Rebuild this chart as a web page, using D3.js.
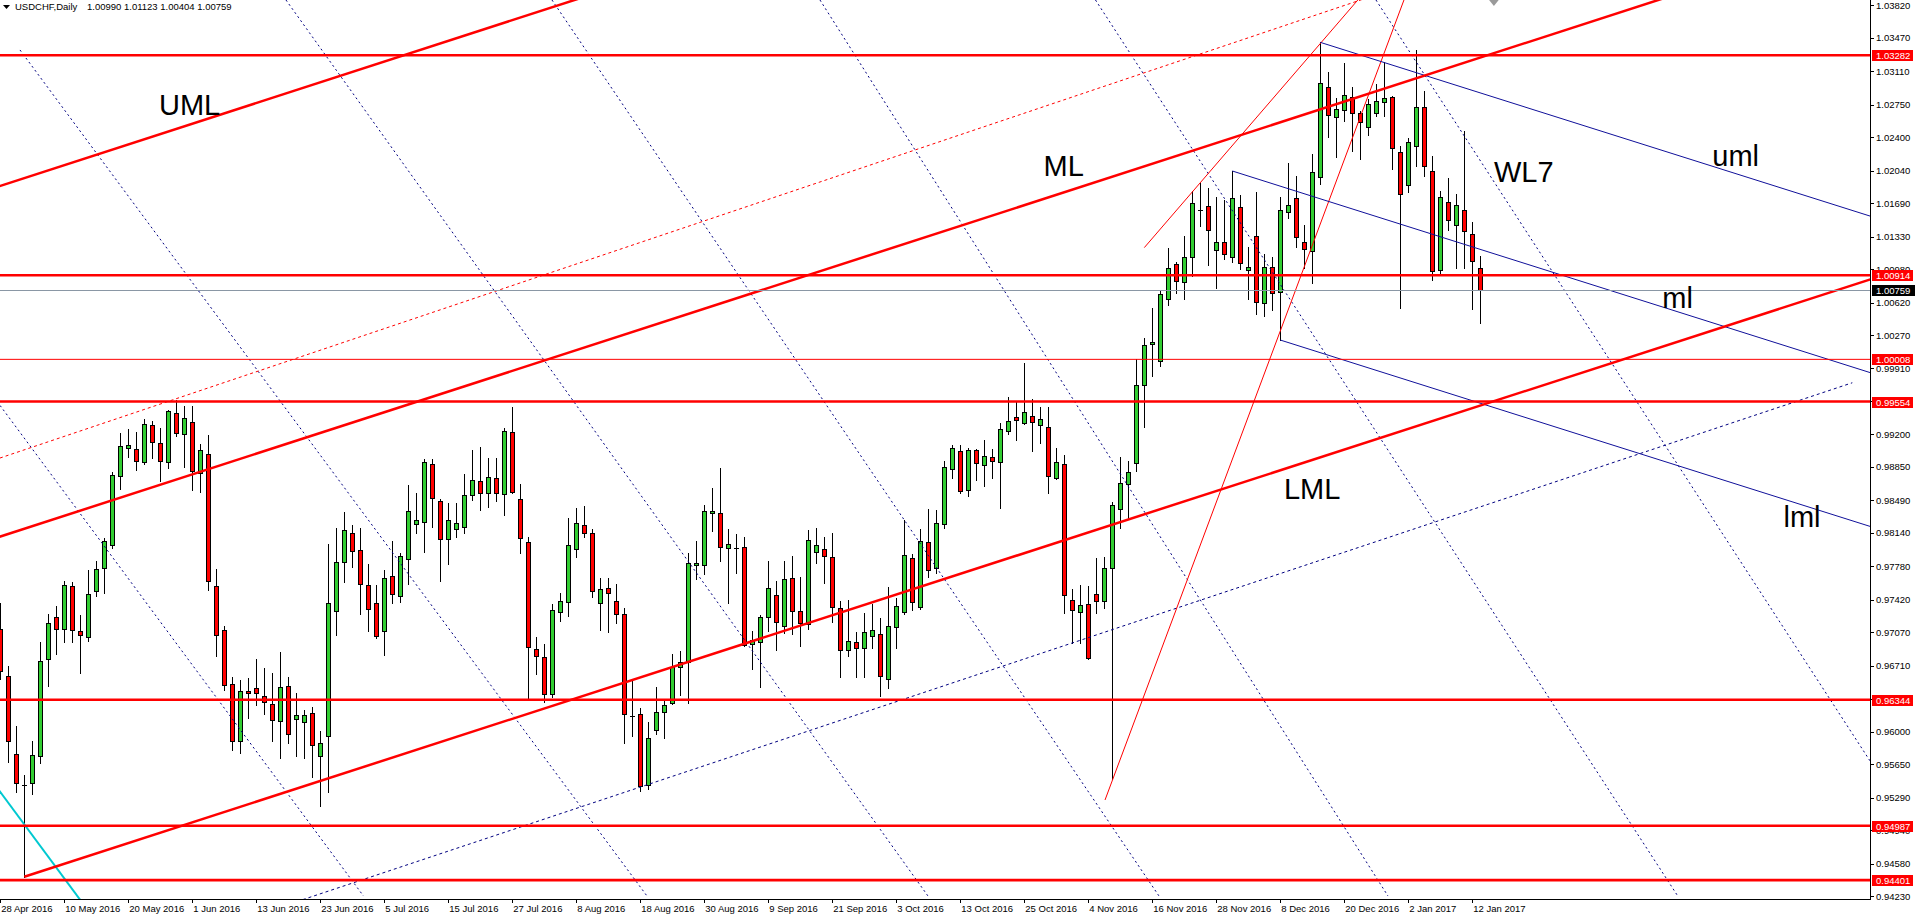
<!DOCTYPE html>
<html>
<head>
<meta charset="utf-8">
<script src="https://cdnjs.cloudflare.com/ajax/libs/d3/7.8.5/d3.min.js"></script>
<style>
  body { margin: 0; background: #fff; overflow: hidden; }
  svg { display: block; }
  text { font-family: "Liberation Sans", Arial, sans-serif; }
</style>
</head>
<body>
<svg width="1915" height="919"></svg>
<script>
// values

const symbolTitle = "USDCHF,Daily";

// daily bars, first one is 28 Apr 2016
const opens = [0.97104,0.96598,0.95758,0.95420,0.95449,0.95736,0.96780,0.97231,0.97104,0.97566,
 0.97086,0.97020,0.97511,0.97758,0.98013,0.98748,0.99050,0.99039,0.98901,0.99301,
 0.99108,0.98901,0.99428,0.99202,0.99330,0.98781,0.98984,0.97566,0.97093,0.96511,
 0.95904,0.96435,0.96467,0.96384,0.96293,0.96111,0.96489,0.96136,0.96104,0.96198,
 0.95741,0.95956,0.97302,0.97823,0.98135,0.97952,0.97575,0.97381,0.97087,0.97672,
 0.97464,0.97855,0.98239,0.98261,0.98878,0.98479,0.98070,0.98185,0.98207,0.98544,
 0.98695,0.98566,0.98727,0.98562,0.99222,0.98505,0.98038,0.96889,0.96803,0.96401,
 0.97291,0.97392,0.97963,0.98225,0.98135,0.97381,0.97543,0.97406,0.97263,0.96168,
 0.96186,0.95425,0.96017,0.96208,0.96305,0.96692,0.96753,0.97790,0.97790,0.98350,
 0.98350,0.97973,0.97973,0.97984,0.96943,0.96961,0.97230,0.97471,0.97141,0.97650,
 0.97302,0.97155,0.97930,0.97963,0.97884,0.97328,0.96879,0.96961,0.96897,0.97033,
 0.97047,0.96563,0.97123,0.97291,0.97866,0.97346,0.98038,0.97758,0.98240,0.98832,
 0.99022,0.98605,0.99033,0.98869,0.98954,0.98901,0.99234,0.99392,0.99324,0.99403,
 0.99297,0.99281,0.98731,0.98885,0.97420,0.97288,0.97378,0.97484,0.97404,0.97764,
 0.98398,0.98663,0.98890,0.99736,1.00170,0.99995,1.00662,1.01037,1.00841,1.01111,
 1.01613,1.01662,1.01182,1.01271,1.01106,1.01645,1.00966,1.01333,1.00611,1.01006,
 1.00730,1.01591,1.01742,1.01268,1.01171,1.01968,1.02944,1.02621,1.02689,1.02836,
 1.02657,1.02506,1.02657,1.02779,1.02836,1.02237,1.01882,1.02302,1.02729,1.02032,
 1.00970,1.01706,1.01451,1.01612,1.01354,1.00990];

const highs = [0.97380,0.96704,0.96056,0.95536,0.95900,0.96966,0.97267,0.97355,0.97620,0.97613,
 0.97257,0.97740,0.97839,0.98086,0.98791,0.99217,0.99257,0.99228,0.99366,0.99341,
 0.99268,0.99468,0.99573,0.99508,0.99508,0.99101,0.99195,0.97748,0.97140,0.96591,
 0.96558,0.96576,0.96784,0.96686,0.96635,0.96857,0.96591,0.96417,0.96231,0.96267,
 0.96007,0.98020,0.98189,0.98361,0.98225,0.98189,0.97805,0.97579,0.97740,0.98052,
 0.97920,0.98655,0.98566,0.98935,0.98935,0.98505,0.98458,0.98458,0.98770,0.99032,
 0.99061,0.98946,0.98946,0.99269,0.99495,0.98662,0.98092,0.97015,0.96940,0.97370,
 0.97489,0.98304,0.98411,0.98429,0.98182,0.97650,0.97650,0.97589,0.97327,0.96563,
 0.96251,0.96100,0.96477,0.96340,0.96836,0.96868,0.97920,0.98052,0.98440,0.98619,
 0.98835,0.98181,0.98128,0.98099,0.97083,0.97256,0.97837,0.97625,0.97837,0.97894,
 0.97668,0.98171,0.98189,0.98099,0.98135,0.97406,0.97417,0.97076,0.97281,0.97371,
 0.97227,0.97561,0.97442,0.98278,0.97912,0.98181,0.98393,0.98386,0.98916,0.99086,
 0.99086,0.99049,0.99043,0.99139,0.99043,0.99324,0.99604,0.99562,0.99974,0.99578,
 0.99493,0.99493,0.99059,0.98980,0.97536,0.97579,0.97563,0.97870,0.97885,0.98467,
 0.98954,0.98916,1.00011,1.00233,1.00566,1.00751,1.01211,1.01058,1.01333,1.01825,
 1.01904,1.01850,1.01760,1.01724,1.02036,1.01778,1.01214,1.01806,1.01139,1.01114,
 1.01760,1.02118,1.01982,1.01454,1.02219,1.03421,1.03098,1.02818,1.03195,1.02937,
 1.02682,1.02808,1.02973,1.03206,1.02843,1.02305,1.02388,1.03339,1.02897,1.02197,
 1.01824,1.01964,1.01785,1.02467,1.01483,1.01123];

const lows = [0.96566,0.95674,0.95347,0.94438,0.95329,0.95667,0.96493,0.96838,0.96966,0.96966,
 0.96627,0.96973,0.97457,0.97493,0.97973,0.98613,0.98955,0.98820,0.98886,0.98948,
 0.98700,0.98839,0.99184,0.98850,0.98602,0.98577,0.97529,0.96809,0.96446,0.95802,
 0.95766,0.96147,0.96282,0.96191,0.95904,0.95711,0.95875,0.95740,0.95711,0.95511,
 0.95199,0.95353,0.97040,0.97615,0.97776,0.97266,0.97087,0.97012,0.96825,0.97388,
 0.97399,0.97586,0.98135,0.97937,0.98207,0.97622,0.97805,0.98092,0.98135,0.98494,
 0.98386,0.98422,0.98483,0.98332,0.98566,0.97927,0.96347,0.96624,0.96322,0.96369,
 0.97191,0.97245,0.97884,0.98099,0.97446,0.97094,0.97076,0.97166,0.95881,0.95956,
 0.95364,0.95379,0.95971,0.95928,0.96297,0.96394,0.96305,0.97640,0.97697,0.98164,
 0.97841,0.97381,0.97711,0.96922,0.96674,0.96477,0.97083,0.96879,0.97058,0.97047,
 0.96922,0.97101,0.97819,0.97604,0.97184,0.96584,0.96814,0.96592,0.96592,0.96897,
 0.96387,0.96466,0.96904,0.97263,0.97309,0.97320,0.97661,0.97704,0.98187,0.98726,
 0.98573,0.98541,0.98705,0.98647,0.98731,0.98409,0.99202,0.99139,0.99308,0.99022,
 0.99112,0.98567,0.98716,0.97277,0.96955,0.96955,0.96786,0.97272,0.97336,0.95490,
 0.98187,0.98303,0.98805,0.99281,0.99826,0.99932,1.00588,1.00725,1.00662,1.00910,
 1.01439,1.01025,1.00780,1.01085,1.01053,1.00977,1.00654,1.00493,1.00478,1.00539,
 1.00216,1.01526,1.01221,1.00995,1.00826,1.01892,1.02398,1.02190,1.02578,1.02255,
 1.02161,1.02420,1.02632,1.02632,1.02054,1.00557,1.01813,1.02090,1.01986,1.00862,
 1.00916,1.01401,1.00996,1.00995,1.00546,1.00404];

const closes = [0.96656,0.95904,0.95449,0.95422,0.95747,0.96758,0.97173,0.97104,0.97577,0.97093,
 0.97038,0.97478,0.97748,0.98057,0.98759,0.99071,0.99082,0.98919,0.99308,0.99115,
 0.98919,0.99450,0.99213,0.99377,0.98802,0.99028,0.97620,0.97038,0.96500,0.95904,
 0.96435,0.96413,0.96420,0.96318,0.96122,0.96482,0.95973,0.96176,0.96184,0.95856,
 0.95874,0.97381,0.97823,0.98167,0.97948,0.97586,0.97324,0.97033,0.97650,0.97485,
 0.97887,0.98372,0.98275,0.98899,0.98519,0.98070,0.98275,0.98243,0.98544,0.98706,
 0.98566,0.98738,0.98573,0.99237,0.98584,0.98081,0.96915,0.96811,0.96409,0.97309,
 0.97406,0.98009,0.98243,0.98135,0.97510,0.97532,0.97489,0.97263,0.96186,0.96170,
 0.95418,0.95928,0.96208,0.96283,0.96692,0.96753,0.97812,0.97812,0.98372,0.98372,
 0.97991,0.98016,0.97975,0.96933,0.96986,0.97238,0.97543,0.97184,0.97640,0.97302,
 0.97166,0.98063,0.98006,0.97894,0.97346,0.96879,0.96976,0.96897,0.97069,0.97094,
 0.96602,0.97137,0.97353,0.97902,0.97399,0.98052,0.97740,0.98243,0.98848,0.99059,
 0.98594,0.99033,0.98890,0.98964,0.98916,0.99255,0.99340,0.99350,0.99440,0.99334,
 0.99361,0.98753,0.98901,0.97473,0.97314,0.97367,0.96796,0.97404,0.97764,0.98435,
 0.98673,0.98795,0.99731,1.00159,1.00196,1.00709,1.00995,1.00857,1.01111,1.01693,
 1.01616,1.01400,1.01271,1.01139,1.01742,1.01042,1.00999,1.00629,1.00999,1.00719,
 1.01612,1.01670,1.01322,1.01192,1.02022,1.02980,1.02635,1.02700,1.02851,1.02657,
 1.02560,1.02757,1.02790,1.02818,1.02280,1.01785,1.02352,1.02727,1.02090,1.00956,
 1.01752,1.01508,1.01670,1.01386,1.01063,1.00759];

// time axis, one label every 8 bars
const dateLabels = ["28 Apr 2016","10 May 2016","20 May 2016","1 Jun 2016","13 Jun 2016",
 "23 Jun 2016","5 Jul 2016","15 Jul 2016","27 Jul 2016","8 Aug 2016","18 Aug 2016",
 "30 Aug 2016","9 Sep 2016","21 Sep 2016","3 Oct 2016","13 Oct 2016","25 Oct 2016",
 "4 Nov 2016","16 Nov 2016","28 Nov 2016","8 Dec 2016","20 Dec 2016","2 Jan 2017","12 Jan 2017"];
const labelStep = 8;

// price axis ticks
const priceTicks = [1.03820,1.03470,1.03110,1.02750,1.02400,1.02040,1.01690,1.01330,1.00980,
 1.00620,1.00270,0.99910,0.99560,0.99200,0.98850,0.98490,0.98140,0.97780,0.97420,0.97070,
 0.96710,0.96350,0.96000,0.95650,0.95290,0.94940,0.94580,0.94230];

// horizontal levels
const levelPrices = [1.03282, 1.00914, 1.00008, 0.99554, 0.96344, 0.94987, 0.94401];
const thinLevel = 1.00008;

// drawn objects as [bar, price] pairs
const redFork = [
    [[-10, 1.01597], [80, 1.04106]],    // UML
    [[-10, 0.97822], [215, 1.04093]],   // ML
    [[3, 0.94438], [240, 1.01043]]      // LML
];
const blueFork = [
    [[165, 1.03421], [234, 1.01543]],   // uml
    [[154, 1.02036], [234, 0.99858]],   // ml
    [[160, 1.00216], [234, 0.98202]]    // lml
];
const redDotLine = [[-10, 0.98657], [175, 1.04021]];
const blueDashLine = [[25, 0.93823], [231.5, 0.99756]];
const redThinLines = [
    [[138.09, 0.95264], [176, 1.04002]],
    [[143.0, 1.01211], [170.5, 1.03958]]
];
const navyDotLines = [
    [[-3, 0.99857], [45.4, 0.94230]],
    [[2.46, 1.03339], [80.84, 0.94230]],
    [[35.71, 1.03877], [115.96, 0.94230]],
    [[68.96, 1.03877], [144.84, 0.94230]],
    [[102.46, 1.03877], [173.46, 0.94230]],
    [[136.9, 1.03877], [209.6, 0.94241]],
    [[171.96, 1.03877], [240, 0.94851]]
];
const cyanLine = [[-2, 0.95583], [11, 0.94071]];

// text objects
const noteTexts = ["UML", "ML", "LML", "WL7", "uml", "ml", "lml"];
const noteBars = [19.84, 130.4, 160.46, 186.71, 214.0, 207.75, 222.9];
const notePrices = [1.02639, 1.01978, 0.98504, 1.01914, 1.02093, 1.00558, 0.98206];

const svg = d3.select("svg");

const PLOT_RIGHT = 1870;
const PLOT_BOTTOM = 899;
const BAR_PX = 8;

// bar index -> pixel, price -> pixel
const x = d3.scaleLinear().domain([0, 1]).range([0.3, 0.3 + BAR_PX]);
const y = d3.scaleLinear().domain([0.94198, 1.03877]).range([PLOT_BOTTOM, 0]);

svg.append("rect")
    .attr("width", 1915)
    .attr("height", 919)
    .attr("fill", "#fff");

svg.append("defs").append("clipPath")
    .attr("id", "plotClip")
    .append("rect")
    .attr("x", 0).attr("y", 0)
    .attr("width", PLOT_RIGHT)
    .attr("height", PLOT_BOTTOM);

const plot = svg.append("g").attr("clip-path", "url(#plotClip)");

// candles
const bars = opens.map((o, i) => ({i: i, o: o, h: highs[i], l: lows[i], c: closes[i]}));

function cx(d) { return Math.round(x(d.i)); }

plot.append("g")
    .selectAll("line")
    .data(bars)
    .enter().append("line")
    .attr("x1", d => cx(d) + 0.5)
    .attr("x2", d => cx(d) + 0.5)
    .attr("y1", d => Math.round(y(d.h)))
    .attr("y2", d => Math.round(y(d.l)) + 1)
    .attr("stroke", "#000")
    .attr("shape-rendering", "crispEdges");

const bodies = bars.filter(d => Math.round(y(Math.min(d.o, d.c))) - Math.round(y(Math.max(d.o, d.c))) >= 1);
const dojis = bars.filter(d => Math.round(y(Math.min(d.o, d.c))) - Math.round(y(Math.max(d.o, d.c))) < 1);

plot.append("g")
    .selectAll("rect")
    .data(bodies)
    .enter().append("rect")
    .attr("x", d => cx(d) - 1.5)
    .attr("width", 4)
    .attr("y", d => Math.round(y(Math.max(d.o, d.c))) + 0.5)
    .attr("height", d => Math.round(y(Math.min(d.o, d.c))) - Math.round(y(Math.max(d.o, d.c))))
    .attr("fill", d => d.c >= d.o ? "#32cd32" : "#ff0000")
    .attr("stroke", "#000")
    .attr("shape-rendering", "crispEdges");

plot.append("g")
    .selectAll("line")
    .data(dojis)
    .enter().append("line")
    .attr("x1", d => cx(d) - 2)
    .attr("x2", d => cx(d) + 3)
    .attr("y1", d => Math.round(y(d.c)) + 0.5)
    .attr("y2", d => Math.round(y(d.c)) + 0.5)
    .attr("stroke", "#000")
    .attr("stroke-width", 1.5)
    .attr("shape-rendering", "crispEdges");

// helper draws [bar, price] segments
function drawSegments(segs, color, width, dash) {
    plot.append("g")
        .selectAll("line")
        .data(segs)
        .enter().append("line")
        .attr("x1", d => x(d[0][0]))
        .attr("y1", d => y(d[0][1]))
        .attr("x2", d => x(d[1][0]))
        .attr("y2", d => y(d[1][1]))
        .attr("stroke", color)
        .attr("stroke-width", width)
        .attr("stroke-dasharray", dash || null);
}

drawSegments(navyDotLines, "#000080", 1, "2,3");
drawSegments([blueDashLine], "#000080", 1, "3,3");
drawSegments([redDotLine], "#ff0000", 1, "3,3");
drawSegments(redThinLines, "#ff0000", 1);
drawSegments([cyanLine], "#00c8d0", 2);
drawSegments(blueFork, "#10109a", 1);
drawSegments(redFork, "#ff0000", 2.5);

// bid line
const bid = closes[closes.length - 1];
plot.append("line")
    .attr("x1", 0).attr("x2", PLOT_RIGHT)
    .attr("y1", Math.round(y(bid)) + 0.5)
    .attr("y2", Math.round(y(bid)) + 0.5)
    .attr("stroke", "#8a97a5")
    .attr("shape-rendering", "crispEdges");

// horizontal levels
plot.append("g")
    .selectAll("line")
    .data(levelPrices)
    .enter().append("line")
    .attr("x1", 0).attr("x2", PLOT_RIGHT)
    .attr("y1", d => y(d))
    .attr("y2", d => y(d))
    .attr("stroke", "#ff0000")
    .attr("stroke-width", d => d === thinLevel ? 1 : 2.6);

// text objects
plot.append("g")
    .selectAll("text")
    .data(noteTexts)
    .enter().append("text")
    .attr("x", (d, i) => x(noteBars[i]))
    .attr("y", (d, i) => y(notePrices[i]))
    .attr("font-size", 29)
    .attr("fill", "#000")
    .text(d => d);

// little grey object marker cut by the top edge
plot.append("path")
    .attr("d", `M${x(186.1)},0 L${x(187.3)},0 L${x(186.7)},6 Z`)
    .attr("fill", "#9a9a9a");

// frame
svg.append("line")
    .attr("x1", PLOT_RIGHT + 0.5).attr("x2", PLOT_RIGHT + 0.5)
    .attr("y1", 0).attr("y2", PLOT_BOTTOM + 1)
    .attr("stroke", "#000")
    .attr("shape-rendering", "crispEdges");
svg.append("line")
    .attr("x1", 0).attr("x2", PLOT_RIGHT + 1)
    .attr("y1", PLOT_BOTTOM + 0.5).attr("y2", PLOT_BOTTOM + 0.5)
    .attr("stroke", "#000")
    .attr("shape-rendering", "crispEdges");

// price axis
const yAxis = svg.append("g");
yAxis.selectAll("line")
    .data(priceTicks)
    .enter().append("line")
    .attr("x1", PLOT_RIGHT).attr("x2", PLOT_RIGHT + 4)
    .attr("y1", d => Math.round(y(d)) + 0.5)
    .attr("y2", d => Math.round(y(d)) + 0.5)
    .attr("stroke", "#000")
    .attr("shape-rendering", "crispEdges");
yAxis.selectAll("text")
    .data(priceTicks)
    .enter().append("text")
    .attr("x", PLOT_RIGHT + 6)
    .attr("y", d => y(d) + 3.5)
    .attr("font-size", 9.5)
    .attr("fill", "#000")
    .text(d => d.toFixed(5));

// price tags of the levels
const tags = svg.append("g");
tags.selectAll("rect")
    .data(levelPrices)
    .enter().append("rect")
    .attr("x", PLOT_RIGHT + 2)
    .attr("y", d => Math.round(y(d)) - 5)
    .attr("width", 41)
    .attr("height", 11)
    .attr("fill", "#ff0000");
tags.selectAll("text")
    .data(levelPrices)
    .enter().append("text")
    .attr("x", PLOT_RIGHT + 6)
    .attr("y", d => Math.round(y(d)) + 4)
    .attr("font-size", 9.5)
    .attr("fill", "#fff")
    .text(d => d.toFixed(5));

tags.append("rect")
    .attr("x", PLOT_RIGHT + 2)
    .attr("y", Math.round(y(bid)) - 5)
    .attr("width", 43)
    .attr("height", 11)
    .attr("fill", "#000");
tags.append("text")
    .attr("x", PLOT_RIGHT + 6)
    .attr("y", Math.round(y(bid)) + 4)
    .attr("font-size", 9.5)
    .attr("fill", "#fff")
    .text(bid.toFixed(5));

// time axis
const xAxis = svg.append("g");
xAxis.selectAll("line")
    .data(dateLabels)
    .enter().append("line")
    .attr("x1", (d, i) => Math.round(x(i * labelStep)) + 0.5)
    .attr("x2", (d, i) => Math.round(x(i * labelStep)) + 0.5)
    .attr("y1", PLOT_BOTTOM)
    .attr("y2", PLOT_BOTTOM + 4)
    .attr("stroke", "#000")
    .attr("shape-rendering", "crispEdges");
xAxis.selectAll("text")
    .data(dateLabels)
    .enter().append("text")
    .attr("x", (d, i) => x(i * labelStep) + 1)
    .attr("y", PLOT_BOTTOM + 12.5)
    .attr("font-size", 9.5)
    .attr("fill", "#000")
    .text(d => d);

// title
svg.append("path")
    .attr("d", "M3,5 L10,5 L6.5,9 Z")
    .attr("fill", "#000");
const last = opens.length - 1;
svg.append("text")
    .attr("x", 15)
    .attr("y", 10)
    .attr("font-size", 9.5)
    .attr("fill", "#000")
    .text(symbolTitle);
svg.append("text")
    .attr("x", 87)
    .attr("y", 10)
    .attr("font-size", 9.5)
    .attr("fill", "#000")
    .text([opens[last], highs[last], lows[last], closes[last]].map(v => v.toFixed(5)).join(" "));
</script>
</body>
</html>
